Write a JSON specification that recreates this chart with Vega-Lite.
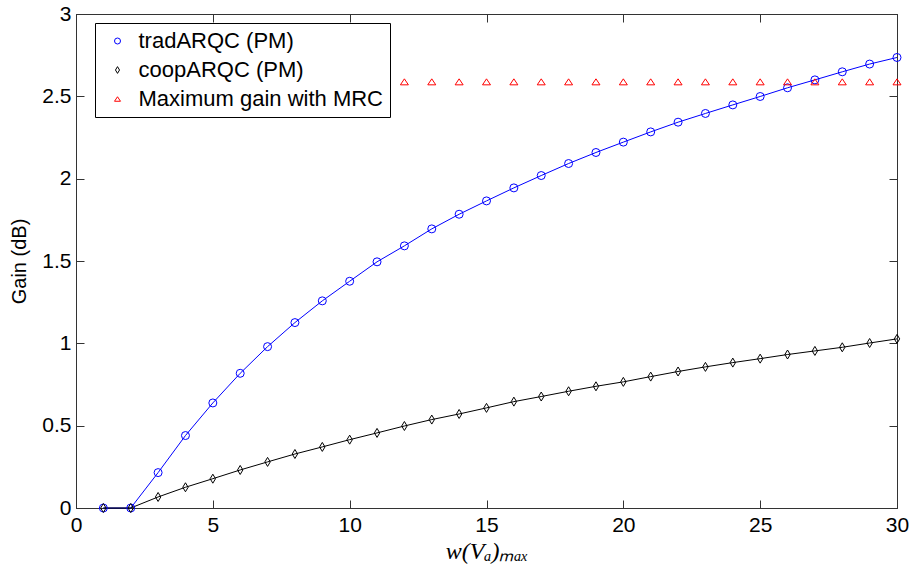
{
  "$schema": "https://vega.github.io/schema/vega-lite/v6.json",
  "width": 821,
  "height": 494,
  "autosize": {"type": "none"},
  "padding": {"left": 76, "top": 14, "right": 17, "bottom": 59},
  "background": "white",
  "config": {
    "font": "Liberation Sans",
    "view": {"stroke": "#333333", "strokeWidth": 1},
    "axis": {
      "grid": false,
      "domainColor": "#333333",
      "domainWidth": 1,
      "tickColor": "#333333",
      "tickWidth": 1,
      "tickSize": -8,
      "labelFont": "Liberation Sans",
      "labelFontSize": 21,
      "labelColor": "#000000",
      "titleColor": "#000000",
      "titleFontWeight": "normal"
    },
    "legend": {
      "orient": "none",
      "legendX": 19,
      "legendY": 9,
      "strokeColor": "#000000",
      "fillColor": "white",
      "padding": 7,
      "labelFont": "Liberation Sans",
      "labelFontSize": 22,
      "labelColor": "#000000",
      "symbolSize": 36,
      "symbolStrokeWidth": 1,
      "symbolOffset": 4.5,
      "labelOffset": 10,
      "rowPadding": 7,
      "title": null,
      "labelLimit": 400
    }
  },
  "data": {
    "values": [
      {"w": 1, "gain": 0, "series": "tradARQC (PM)"},
      {"w": 2, "gain": 0, "series": "tradARQC (PM)"},
      {"w": 3, "gain": 0.215, "series": "tradARQC (PM)"},
      {"w": 4, "gain": 0.44, "series": "tradARQC (PM)"},
      {"w": 5, "gain": 0.638, "series": "tradARQC (PM)"},
      {"w": 6, "gain": 0.818, "series": "tradARQC (PM)"},
      {"w": 7, "gain": 0.98, "series": "tradARQC (PM)"},
      {"w": 8, "gain": 1.126, "series": "tradARQC (PM)"},
      {"w": 9, "gain": 1.258, "series": "tradARQC (PM)"},
      {"w": 10, "gain": 1.377, "series": "tradARQC (PM)"},
      {"w": 11, "gain": 1.495, "series": "tradARQC (PM)"},
      {"w": 12, "gain": 1.592, "series": "tradARQC (PM)"},
      {"w": 13, "gain": 1.695, "series": "tradARQC (PM)"},
      {"w": 14, "gain": 1.784, "series": "tradARQC (PM)"},
      {"w": 15, "gain": 1.865, "series": "tradARQC (PM)"},
      {"w": 16, "gain": 1.944, "series": "tradARQC (PM)"},
      {"w": 17, "gain": 2.019, "series": "tradARQC (PM)"},
      {"w": 18, "gain": 2.092, "series": "tradARQC (PM)"},
      {"w": 19, "gain": 2.159, "series": "tradARQC (PM)"},
      {"w": 20, "gain": 2.222, "series": "tradARQC (PM)"},
      {"w": 21, "gain": 2.284, "series": "tradARQC (PM)"},
      {"w": 22, "gain": 2.343, "series": "tradARQC (PM)"},
      {"w": 23, "gain": 2.396, "series": "tradARQC (PM)"},
      {"w": 24, "gain": 2.448, "series": "tradARQC (PM)"},
      {"w": 25, "gain": 2.499, "series": "tradARQC (PM)"},
      {"w": 26, "gain": 2.552, "series": "tradARQC (PM)"},
      {"w": 27, "gain": 2.6, "series": "tradARQC (PM)"},
      {"w": 28, "gain": 2.649, "series": "tradARQC (PM)"},
      {"w": 29, "gain": 2.696, "series": "tradARQC (PM)"},
      {"w": 30, "gain": 2.736, "series": "tradARQC (PM)"},
      {"w": 1, "gain": 0, "series": "coopARQC (PM)"},
      {"w": 2, "gain": 0, "series": "coopARQC (PM)"},
      {"w": 3, "gain": 0.067, "series": "coopARQC (PM)"},
      {"w": 4, "gain": 0.126, "series": "coopARQC (PM)"},
      {"w": 5, "gain": 0.178, "series": "coopARQC (PM)"},
      {"w": 6, "gain": 0.231, "series": "coopARQC (PM)"},
      {"w": 7, "gain": 0.28, "series": "coopARQC (PM)"},
      {"w": 8, "gain": 0.328, "series": "coopARQC (PM)"},
      {"w": 9, "gain": 0.371, "series": "coopARQC (PM)"},
      {"w": 10, "gain": 0.415, "series": "coopARQC (PM)"},
      {"w": 11, "gain": 0.456, "series": "coopARQC (PM)"},
      {"w": 12, "gain": 0.498, "series": "coopARQC (PM)"},
      {"w": 13, "gain": 0.537, "series": "coopARQC (PM)"},
      {"w": 14, "gain": 0.571, "series": "coopARQC (PM)"},
      {"w": 15, "gain": 0.608, "series": "coopARQC (PM)"},
      {"w": 16, "gain": 0.646, "series": "coopARQC (PM)"},
      {"w": 17, "gain": 0.677, "series": "coopARQC (PM)"},
      {"w": 18, "gain": 0.709, "series": "coopARQC (PM)"},
      {"w": 19, "gain": 0.739, "series": "coopARQC (PM)"},
      {"w": 20, "gain": 0.766, "series": "coopARQC (PM)"},
      {"w": 21, "gain": 0.798, "series": "coopARQC (PM)"},
      {"w": 22, "gain": 0.829, "series": "coopARQC (PM)"},
      {"w": 23, "gain": 0.857, "series": "coopARQC (PM)"},
      {"w": 24, "gain": 0.883, "series": "coopARQC (PM)"},
      {"w": 25, "gain": 0.907, "series": "coopARQC (PM)"},
      {"w": 26, "gain": 0.932, "series": "coopARQC (PM)"},
      {"w": 27, "gain": 0.954, "series": "coopARQC (PM)"},
      {"w": 28, "gain": 0.976, "series": "coopARQC (PM)"},
      {"w": 29, "gain": 1.002, "series": "coopARQC (PM)"},
      {"w": 30, "gain": 1.027, "series": "coopARQC (PM)"},
      {"w": 12, "gain": 2.588, "series": "Maximum gain with MRC"},
      {"w": 13, "gain": 2.588, "series": "Maximum gain with MRC"},
      {"w": 14, "gain": 2.588, "series": "Maximum gain with MRC"},
      {"w": 15, "gain": 2.588, "series": "Maximum gain with MRC"},
      {"w": 16, "gain": 2.588, "series": "Maximum gain with MRC"},
      {"w": 17, "gain": 2.588, "series": "Maximum gain with MRC"},
      {"w": 18, "gain": 2.588, "series": "Maximum gain with MRC"},
      {"w": 19, "gain": 2.588, "series": "Maximum gain with MRC"},
      {"w": 20, "gain": 2.588, "series": "Maximum gain with MRC"},
      {"w": 21, "gain": 2.588, "series": "Maximum gain with MRC"},
      {"w": 22, "gain": 2.588, "series": "Maximum gain with MRC"},
      {"w": 23, "gain": 2.588, "series": "Maximum gain with MRC"},
      {"w": 24, "gain": 2.588, "series": "Maximum gain with MRC"},
      {"w": 25, "gain": 2.588, "series": "Maximum gain with MRC"},
      {"w": 26, "gain": 2.588, "series": "Maximum gain with MRC"},
      {"w": 27, "gain": 2.588, "series": "Maximum gain with MRC"},
      {"w": 28, "gain": 2.588, "series": "Maximum gain with MRC"},
      {"w": 29, "gain": 2.588, "series": "Maximum gain with MRC"},
      {"w": 30, "gain": 2.588, "series": "Maximum gain with MRC"}
    ]
  },
  "layer": [
    {
      "transform": [{"filter": "datum.series !== 'Maximum gain with MRC'"}],
      "mark": {"type": "line", "strokeWidth": 1},
      "encoding": {
        "x": {
          "field": "w", "type": "quantitative",
          "scale": {"domain": [0, 30], "nice": false, "zero": false},
          "axis": {
            "orient": "bottom",
            "values": [0, 5, 10, 15, 20, 25, 30],
            "format": "d",
            "labelPadding": 14,
            "labelFlush": false,
            "title": "w(Vₐ)ₘₐₓ",
            "titleFont": "Liberation Serif",
            "titleFontStyle": "italic",
            "titleFontSize": 24,
            "titlePadding": 4
          }
        },
        "y": {
          "field": "gain", "type": "quantitative",
          "scale": {"domain": [0, 3], "nice": false, "zero": false},
          "axis": {
            "orient": "left",
            "values": [0, 0.5, 1, 1.5, 2, 2.5, 3],
            "format": ".2~f",
            "labelPadding": 13,
            "labelFlush": false,
            "title": "Gain (dB)",
            "titleFont": "Liberation Sans",
            "titleFontSize": 20,
            "titlePadding": 12
          }
        },
        "color": {
          "field": "series", "type": "nominal",
          "scale": {"domain": ["tradARQC (PM)", "coopARQC (PM)", "Maximum gain with MRC"], "range": ["#0000ff", "#000000", "#ff0000"]},
          "legend": {
            "encode": {
              "symbols": {
                "update": {
                  "fill": {"value": "transparent"},
                  "strokeWidth": {"value": 1}
                }
              }
            }
          }
        }
      }
    },
    {
      "mark": {"type": "point", "filled": false, "strokeWidth": 1, "size": 64, "opacity": 1},
      "encoding": {
        "x": {
          "field": "w", "type": "quantitative",
          "axis": {"orient": "top", "values": [0, 5, 10, 15, 20, 25, 30], "labels": false, "title": null, "domain": true}
        },
        "y": {
          "field": "gain", "type": "quantitative",
          "axis": {"orient": "right", "values": [0, 0.5, 1, 1.5, 2, 2.5, 3], "labels": false, "title": null, "domain": true}
        },
        "color": {
          "field": "series", "type": "nominal",
          "scale": {"domain": ["tradARQC (PM)", "coopARQC (PM)", "Maximum gain with MRC"], "range": ["#0000ff", "#000000", "#ff0000"]},
          "legend": null
        },
        "shape": {
          "field": "series", "type": "nominal",
          "scale": {"domain": ["tradARQC (PM)", "coopARQC (PM)", "Maximum gain with MRC"], "range": ["circle", "M0,-1.125L0.675,0L0,1.125L-0.675,0Z", "M0,-0.75L1,0.75L-1,0.75Z"]},
          "legend": null
        }
      }
    }
  ],
  "resolve": {"axis": {"x": "independent", "y": "independent"}}
}
